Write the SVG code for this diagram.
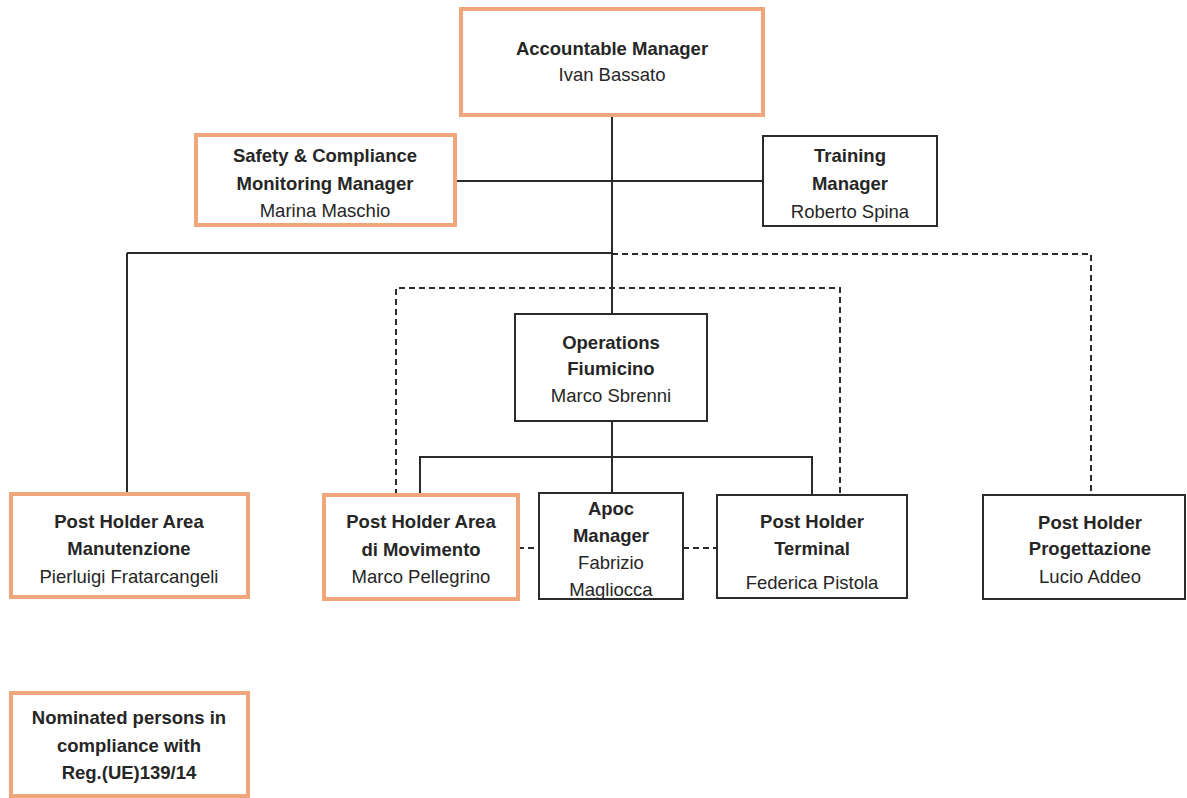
<svg xmlns="http://www.w3.org/2000/svg" width="1187" height="798" viewBox="0 0 1187 798">
<style>
.nom{fill:#fff;stroke:#EFA67B;stroke-width:4}
.std{fill:#fff;stroke:#2b2b2b;stroke-width:2}
.t{font-family:"Liberation Sans",Arial,sans-serif;font-size:18.5px;fill:#262626;text-anchor:middle}
.b{font-weight:bold}
.ln{fill:none;stroke:#2b2b2b;stroke-width:2}
.dl{fill:none;stroke:#2b2b2b;stroke-width:2;stroke-dasharray:6 4}
</style>
<rect width="1187" height="798" fill="#fff"/>
<g id="connectors">
<path class="ln" d="M612 115V314"/>
<path class="ln" d="M455 181H763"/>
<path class="ln" d="M127 253H612"/>
<path class="ln" d="M127 253V493"/>
<path class="dl" d="M612 254H1091V495"/>
<path class="dl" d="M396 495V288H840V495"/>
<path class="ln" d="M612 421V493"/>
<path class="ln" d="M420 495V457H812V495"/>
<path class="dl" d="M518 548H539"/>
<path class="dl" d="M683 548H717"/>
</g>
<g id="accountable">
<rect class="nom" x="461" y="9" width="302" height="106"/>
<text class="t b" x="612" y="55">Accountable Manager</text>
<text class="t" x="612" y="81">Ivan Bassato</text>
</g>
<g id="safety">
<rect class="nom" x="196" y="135" width="259" height="90"/>
<text class="t b" x="325" y="162">Safety &amp; Compliance</text>
<text class="t b" x="325" y="190">Monitoring Manager</text>
<text class="t" x="325" y="217">Marina Maschio</text>
</g>
<g id="training">
<rect class="std" x="763" y="136" width="174" height="90"/>
<text class="t b" x="850" y="162">Training</text>
<text class="t b" x="850" y="190">Manager</text>
<text class="t" x="850" y="218">Roberto Spina</text>
</g>
<g id="operations">
<rect class="std" x="515" y="314" width="192" height="107"/>
<text class="t b" x="611" y="349">Operations</text>
<text class="t b" x="611" y="375">Fiumicino</text>
<text class="t" x="611" y="402">Marco Sbrenni</text>
</g>
<g id="manutenzione">
<rect class="nom" x="11" y="494" width="237" height="103"/>
<text class="t b" x="129" y="528">Post Holder Area</text>
<text class="t b" x="129" y="555">Manutenzione</text>
<text class="t" x="129" y="583">Pierluigi Fratarcangeli</text>
</g>
<g id="movimento">
<rect class="nom" x="324" y="495" width="194" height="104"/>
<text class="t b" x="421" y="528">Post Holder Area</text>
<text class="t b" x="421" y="556">di Movimento</text>
<text class="t" x="421" y="583">Marco Pellegrino</text>
</g>
<g id="apoc">
<rect class="std" x="539" y="493" width="144" height="106"/>
<text class="t b" x="611" y="515">Apoc</text>
<text class="t b" x="611" y="542">Manager</text>
<text class="t" x="611" y="569">Fabrizio</text>
<text class="t" x="611" y="596">Magliocca</text>
</g>
<g id="terminal">
<rect class="std" x="717" y="495" width="190" height="103"/>
<text class="t b" x="812" y="528">Post Holder</text>
<text class="t b" x="812" y="555">Terminal</text>
<text class="t" x="812" y="589">Federica Pistola</text>
</g>
<g id="progettazione">
<rect class="std" x="983" y="495" width="202" height="104"/>
<text class="t b" x="1090" y="529">Post Holder</text>
<text class="t b" x="1090" y="555">Progettazione</text>
<text class="t" x="1090" y="583">Lucio Addeo</text>
</g>
<g id="legend">
<rect class="nom" x="11" y="693" width="237" height="103"/>
<text class="t b" x="129" y="724">Nominated persons in</text>
<text class="t b" x="129" y="752">compliance with</text>
<text class="t b" x="129" y="779">Reg.(UE)139/14</text>
</g>
</svg>
